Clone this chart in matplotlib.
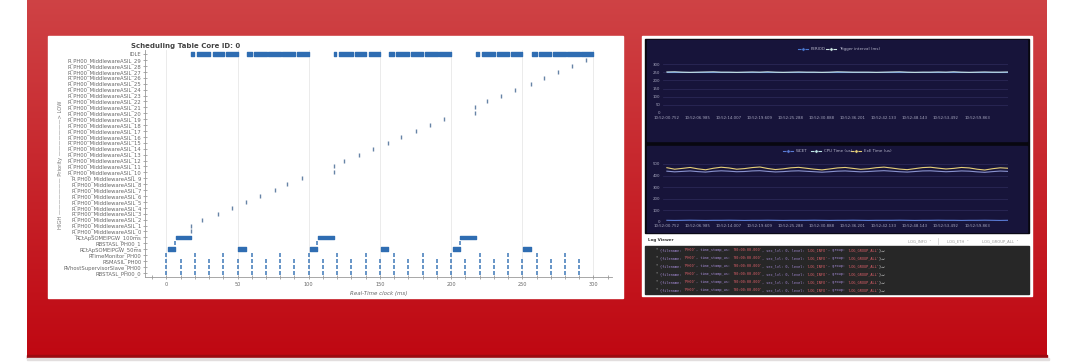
import numpy as np
import matplotlib.pyplot as plt
from matplotlib.patches import Rectangle

W, H = 1080, 362

# ---------------- scheduling table (left) ----------------
task_labels = ["RBSTASL_PH00_0", "RVhostSupervisorSlave_PH00", "RSMASIL_PH00",
               "RTimeMonitor_PH00", "RCtApSOMEIPGW_50ms", "RBSTASL_PH00_1",
               "RCtApSOMEIPGW_100ms"] + \
              ["R_PH00_MiddlewareASIL_%d" % i for i in range(30)] + ["IDLE"]

every_10ms = [0, 10, 20, 30, 40, 50, 60, 70, 80, 90, 100, 110, 120, 130, 140,
              150, 160, 170, 180, 190, 200, 210, 220, 230, 240, 250, 260, 270, 280, 290]
every_20ms = [0, 20, 40, 60, 80, 100, 120, 140, 160, 180, 200, 220, 240, 260, 280]
bsta_1 = [6, 106, 206]
someip_50 = [(1, 6), (50.5, 56), (101, 106), (150.5, 156), (201, 206), (250.5, 256)]
someip_100 = [(6.5, 17.5), (106.5, 117.5), (206.5, 217.5)]
middleware = [17.6, 17.6, 25, 36, 46, 56, 66, 76, 85, 95,
              117.4, 117.4, 125, 135, 145, 156, 165, 175, 185, 195,
              217, 217, 225, 235, 245, 256, 265, 275, 285, 295]
idle = [(17.5, 19.5), (21.5, 31), (32.5, 40.5), (42, 50),
        (56.5, 60), (61.5, 70.5), (71.5, 80.5), (81.5, 90.5), (91.5, 100),
        (117.5, 119.5), (121.5, 131), (132.5, 140.5), (142, 150),
        (156.5, 160), (161.5, 170.5), (171.5, 180.5), (181.5, 190.5), (191.5, 200),
        (217.5, 219.5), (221.5, 231), (232.5, 240.5), (242, 250),
        (256.5, 260), (261.5, 270.5), (271.5, 280.5), (281.5, 290.5), (291.5, 300)]

# ---------------- monitoring dashboard (right) ----------------
time_labels = ["10:52:00.752", "10:52:06.985", "10:52:14.007", "10:52:19.609",
               "10:52:25.288", "10:52:30.888", "10:52:36.201", "10:52:42.133",
               "10:52:48.143", "10:52:53.492", "10:52:59.863"]
period = [250, 250, 250, 250, 250, 250, 250, 250, 250, 250, 250, 250, 250, 250, 250,
          250, 250, 250, 250, 250, 250, 250, 250, 250, 250, 250, 250, 250, 250, 250,
          250, 250, 250, 250, 250, 250, 250, 250, 250, 250, 250, 250, 250, 250, 250]
trigger = [251, 252, 250, 249, 250, 251, 252, 250, 250, 249, 250, 251, 250, 252, 250,
           249, 250, 251, 250, 250, 249, 250, 252, 251, 250, 250, 250, 249, 250, 251,
           252, 250, 249, 250, 250, 251, 250, 252, 250, 249, 250, 251, 250, 250, 251]
exe_time = [468, 455, 462, 470, 458, 450, 463, 472, 466, 455, 460, 469, 474, 461, 452,
            458, 467, 471, 463, 455, 449, 457, 466, 470, 462, 454, 459, 468, 473, 465,
            456, 451, 460, 469, 472, 464, 457, 462, 470, 466, 455, 448, 459, 467, 463]
cpu_time = [438, 432, 436, 440, 434, 430, 437, 441, 438, 433, 435, 440, 442, 436, 431,
            434, 439, 441, 437, 433, 429, 433, 438, 440, 436, 432, 435, 439, 442, 438,
            433, 430, 435, 440, 441, 437, 433, 436, 440, 438, 432, 428, 434, 439, 436]
wcet = [12, 11, 12, 13, 12, 11, 12, 12, 13, 12, 11, 12, 12, 13, 12,
        11, 12, 12, 12, 13, 12, 11, 12, 12, 13, 12, 11, 12, 12, 12,
        13, 12, 11, 12, 12, 13, 12, 12, 11, 12, 12, 13, 12, 11, 12]
log_rows = 6

fig = plt.figure(figsize=(W / 100, H / 100), dpi=100)
bg = fig.add_axes([0, 0, 1, 1])


def px_axes(x0, y0, x1, y1):
    return fig.add_axes([x0 / W, 1 - y1 / H, (x1 - x0) / W, (y1 - y0) / H])


# red banner with vertical gradient
t = np.linspace(0, 1, 200)[:, None, None]
grad = np.array([0.81, 0.26, 0.27]) * (1 - t) + np.array([0.75, 0.03, 0.07]) * t
bg.imshow(grad, extent=(27, 1047, 357, 0), aspect='auto', zorder=0)
bg.add_patch(Rectangle((27, 355), 1020, 3, color='#9c0a10', zorder=1))
bg.add_patch(Rectangle((27, 358), 1022, 2, color='#e2dede', zorder=1))
bg.add_patch(Rectangle((48, 36), 575, 262, color='white', zorder=2))
bg.add_patch(Rectangle((642, 36), 390, 260, color='white', zorder=2))
bg.add_patch(Rectangle((645, 39), 384, 194, color='#08070f', zorder=3))
bg.add_patch(Rectangle((647, 40), 380, 101, color='#17143a', zorder=4))
bg.add_patch(Rectangle((647, 146), 380, 86, color='#17143a', zorder=4))
bg.add_patch(Rectangle((645, 246), 384, 48, color='#272727', zorder=3))
bg.set_xlim(0, W)
bg.set_ylim(H, 0)
bg.axis('off')

# ---- scheduling table ----
ax = px_axes(145, 50, 612, 277)
blue = '#2f6db2'
ax.broken_barh([(s, e - s) for s, e in idle], (37 - 0.3, 0.6), color=blue)
ax.broken_barh([(s, e - s) for s, e in someip_50], (4 - 0.3, 0.6), color=blue)
ax.broken_barh([(s, e - s) for s, e in someip_100], (6 - 0.3, 0.6), color=blue)
mk = dict(ls='none', marker='|', ms=3.2, mew=1.1, color='#3d78b8')
ax.plot(every_10ms, [0] * len(every_10ms), **mk)
ax.plot(every_10ms, [1] * len(every_10ms), **mk)
ax.plot(every_10ms, [2] * len(every_10ms), **mk)
ax.plot(every_20ms, [3] * len(every_20ms), **mk)
ax.plot(bsta_1, [5] * len(bsta_1), **mk)
ax.plot(middleware, [7 + i for i in range(len(middleware))], ls='none', marker='|',
        ms=3, mew=1.0, color='#6784a6')

ax.set_xlim(-15, 313)
ax.set_ylim(-0.7, 37.7)
ax.set_yticks(range(len(task_labels)))
ax.set_yticklabels(task_labels)
ax.set_xticks([0, 50, 100, 150, 200, 250, 300])
ax.set_xticks(np.arange(-10, 320, 10), minor=True)
ax.tick_params(axis='y', labelsize=3.8, labelcolor='#666666', length=3,
               direction='inout', color='#888888', width=0.5, pad=1)
ax.tick_params(axis='x', which='both', labelsize=3.6, labelcolor='#666666', length=3,
               direction='inout', color='#888888', width=0.5, pad=2)
ax.grid(axis='x', color='#e8e8e8', lw=0.6)
ax.set_axisbelow(True)
for s in ['top', 'right']:
    ax.spines[s].set_visible(False)
for s in ['left', 'bottom']:
    ax.spines[s].set_color('#999999')
    ax.spines[s].set_linewidth(0.6)
ax.set_facecolor('none')
ax.set_xlabel("Real-Time clock (ms)", fontsize=4, style='italic', color='#666666', labelpad=3)
bg.text(186, 46, "Scheduling Table Core ID: 0", fontsize=5, weight='bold',
        ha='center', va='center', color='#444444')
bg.text(61, 165, "HIGH \u2014\u2014\u2014\u2014\u2014\u2014\u2014 Priority \u2014\u2014\u2014\u2014\u2014\u2014\u2014> LOW",
        rotation=90, fontsize=3.8, color='#777777', ha='center', va='center')

# ---- dashboard charts ----
def dark_chart(box, ymax, ystep):
    a = px_axes(*box)
    a.set_facecolor('none')
    a.set_xlim(-0.5, 44)
    a.set_ylim(0, ymax)
    a.set_yticks(np.arange(0, ymax + 1, ystep))
    a.set_xticks(range(0, 41, 4))
    a.set_xticklabels(time_labels)
    a.tick_params(labelsize=2.8, labelcolor='#a8a8c0', length=0, pad=2)
    a.grid(axis='y', color='#2f2c5c', lw=0.5)
    for s in a.spines.values():
        s.set_visible(False)
    a.axhline(0, color='#7a7a9a', lw=0.6)
    return a


def legend_item(x, y, color, label):
    bg.plot([x - 5, x + 5], [y, y], color=color, lw=0.8, zorder=6)
    bg.plot(x, y, 'o', ms=2.4, mfc=color, mec='#17143a', mew=0.4, zorder=7)
    bg.text(x + 8, y, label, fontsize=2.9, color='#b8b8cc', va='center', zorder=7)


ax1 = dark_chart((663, 64, 1008, 113), 300, 50)
ax1.plot(range(len(period)), period, color='#4a78d0', lw=0.8)
ax1.plot(range(len(trigger)), trigger, color='#cfe8e4', lw=0.8)
legend_item(803, 49, '#4a78d0', 'PERIOD')
legend_item(831, 49, '#cfe8e4', 'Trigger interval (ms)')

ax2 = dark_chart((663, 164, 1008, 221.7), 500, 100)
ax2.plot(range(len(wcet)), wcet, color='#5a7bd5', lw=0.8)
ax2.plot(range(len(cpu_time)), cpu_time, color='#8a93cf', lw=0.8)
ax2.plot(range(len(exe_time)), exe_time, color='#e6cf78', lw=0.8)
legend_item(788, 151, '#5a7bd5', 'WCET')
legend_item(816, 151, '#bfe6e6', 'CPU Time (us)')
legend_item(856, 151, '#e6cf78', 'ExE Time (us)')

# ---- log viewer ----
bg.text(648, 240, "Log Viewer", fontsize=3, weight='bold', color='#333333', va='center', zorder=6)
for x, lab in [(908, "LOG_INFO  \u02c5"), (947, "LOG_ETH  \u02c5"), (982, "LOG_GROUP_ALL  \u02c5")]:
    bg.text(x, 241, lab, fontsize=2.7, color='#999999', va='center', zorder=6)
bg.plot([938, 938], [238, 244], color='#cccccc', lw=0.5, zorder=6)

segments = [("* ", '#bbbbbb'), ("{filename: ", '#a48ad6'), ("'PH00'", '#e0606a'),
            (", time_stamp_us: ", '#a48ad6'), ("'00:00:00.000'", '#e0606a'),
            (", sec_lvl: 0, level: ", '#a48ad6'), ("'LOG_INFO'", '#e0606a'),
            (", group: ", '#a48ad6'), ("'LOG_GROUP_ALL'", '#e0606a'), ("},\u21b5", '#dddddd')]
char_w = 2.12
for r in range(log_rows):
    y = 250 + 8 * r
    pos = 0
    for txt, col in segments:
        bg.text(656 + pos * char_w, y, txt, fontsize=2.55, family='DejaVu Sans Mono',
                color=col, va='center', zorder=6)
        pos += len(txt)

fig.savefig("out.png", dpi=100)
